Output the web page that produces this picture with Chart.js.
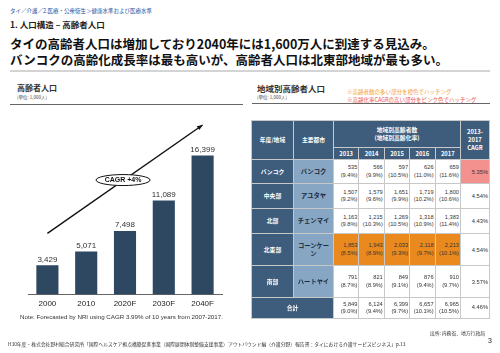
<!DOCTYPE html>
<html lang="ja">
<head>
<meta charset="utf-8">
<script src="https://cdn.jsdelivr.net/npm/chart.js@4"></script>
<style>
  body { margin: 0; width: 500px; height: 353px; background: #fff; position: relative; overflow: hidden;
         font-family: "Noto Sans CJK JP", "Liberation Sans", sans-serif; color: #222; }
  .abs { position: absolute; white-space: nowrap; }
  #crumb { left: 10px; top: 7px; font-size: 5.5px; color: #2a4fa0; }
  #sec { left: 10px; top: 18px; font-size: 8.5px; font-weight: bold; }
  #headline { left: 10px; top: 36px; font-size: 12.5px; font-weight: bold; line-height: 16px; color: #111; }
  #rule { left: 10px; top: 70px; width: 480px; height: 2px; background: #d4d4d4; }
  .ttl { font-size: 8px; font-weight: bold; color: #333; }
  .unit { font-size: 4.5px; color: #444; }
  .uline { height: 1px; background: #666; }
  .hatch { font-size: 5.5px; }
  #note { left: 20px; top: 313px; font-family: "Liberation Sans", sans-serif; font-size: 6.2px; color: #333; }
  #src { right: 15px; top: 329px; font-size: 4.8px; color: #333; }
  #cite { left: 8px; top: 340px; font-size: 4.8px; color: #333; }
  #page { left: 488px; top: 337px; font-family: "Liberation Sans", sans-serif; font-size: 7px; }
  #chartBox { left: 0; top: 112px; width: 250px; height: 206px; }
  #tbl { position: absolute; left: 251px; top: 120px; width: 238px; border-collapse: collapse; table-layout: fixed;
         font-family: "Liberation Sans", "Noto Sans CJK JP", sans-serif; font-size: 5.7px; }
  #tbl td, #tbl th { border: 1px solid #c8c8c8; padding: 0 1px; overflow: hidden; }
  #tbl th { background: #3e5c7b; color: #fff; font-weight: bold; text-align: center;
            font-family: "Noto Sans CJK JP", sans-serif; font-size: 5.8px; line-height: 8px; }
  #tbl td.city { background: #86a6c4; font-weight: bold; text-align: center; font-family: "Noto Sans CJK JP", sans-serif;
                 font-size: 6.3px; color: #1a2a3a; line-height: 8px; padding: 0 2px; }
  #tbl td.num { text-align: right; line-height: 7.5px; color: #333; }
  #tbl td.orange { background: #ea8a1e; }
  #tbl td.pink { background: #f3918e; }
</style>
</head>
<body>
<div id="crumb" class="abs">タイ／介護／2.医療・公衆衛生＞健康水準および医療水準</div>
<div id="sec" class="abs">1. 人口構造 – 高齢者人口</div>
<div id="headline" class="abs">タイの高齢者人口は増加しており2040年には1,600万人に到達する見込み。<br>バンコクの高齢化成長率は最も高いが、高齢者人口は北東部地域が最も多い。</div>
<div id="rule" class="abs"></div>

<div class="abs ttl" style="left:17px;top:82px;">高齢者人口</div>
<div class="abs unit" style="left:17px;top:94px;">(単位: 1,000人)</div>
<div class="abs uline" style="left:10px;top:104px;width:233px;"></div>

<div class="abs ttl" style="left:257px;top:82px;font-size:8.5px;">地域別高齢者人口</div>
<div class="abs unit" style="left:257px;top:94px;">(単位: 1,000人)</div>
<div class="abs hatch" style="left:347px;top:88px;color:#f3a033;">※高齢者数の多い部分を橙色でハッチング</div>
<div class="abs hatch" style="left:347px;top:96px;color:#ee4f4f;">※高齢化率CAGRの高い部分をピンク色でハッチング</div>
<div class="abs uline" style="left:252px;top:103px;width:238px;"></div>

<div id="chartBox" class="abs"><canvas id="elderlyChart" width="250" height="206"></canvas></div>
<div id="note" class="abs">Note: Forecasted by NRI using CAGR 3.99% of 10 years from 2007-2017.</div>

<table id="tbl">
  <colgroup>
    <col style="width:42px"><col style="width:40px">
    <col style="width:25.4px"><col style="width:25.4px"><col style="width:25.4px"><col style="width:25.4px"><col style="width:25.4px">
    <col style="width:29px">
  </colgroup>
  <thead id="thead"></thead>
  <tbody id="tbody"></tbody>
</table>

<div id="src" class="abs">出所: 内務省、地方行政局</div>
<div id="cite" class="abs">H30年度・株式会社野村総合研究所「国際ヘルスケア拠点構築促進事業（国際展開体制整備支援事業）アウトバウンド編（介護分野）報告書：タイにおける介護サービスビジネス」p.13</div>
<div id="page" class="abs">3</div>

<script>
/* ── 高齢者人口 (1,000人) ── */
const years = ['2000', '2010', '2020F', '2030F', '2040F'];
const elderly = [3429, 5071, 7498, 11089, 16399];

/* ── 地域別高齢者人口 ── */
const tableYears = ['2013', '2014', '2015', '2016', '2017'];
const regions = ['バンコク', '中央部', '北部', '北東部', '南部'];
const cities = ['バンコク', 'アユタヤ', 'チェンマイ', 'コーンケーン', 'ハートヤイ'];
const counts = [
  [535, 566, 597, 626, 659],
  [1507, 1579, 1651, 1719, 1800],
  [1163, 1215, 1269, 1318, 1383],
  [1853, 1943, 2033, 2118, 2213],
  [791, 821, 849, 876, 910]
];
const rates = [
  [9.4, 9.9, 10.5, 11.0, 11.6],
  [9.2, 9.6, 9.9, 10.2, 10.6],
  [9.8, 10.3, 10.5, 10.9, 11.4],
  [8.5, 8.9, 9.3, 9.7, 10.1],
  [8.7, 8.9, 9.1, 9.4, 9.7]
];
const cagr = [5.35, 4.54, 4.43, 4.54, 3.57];
const totalCounts = [5849, 6124, 6399, 6657, 6965];
const totalRates = [9.0, 9.4, 9.7, 10.1, 10.5];
const totalCagr = 4.46;

const fmt = n => n.toLocaleString('en-US');

/* ── Table ── */
const rowHeights = [24, 25, 25, 32, 32, 21];
let head = '<tr style="height:27px"><th rowspan="2">年度/地域</th><th rowspan="2">主要都市</th>' +
  '<th colspan="5">地域別高齢者数<br>(地域別高齢化率)</th><th rowspan="2">2013-<br>2017<br>CAGR</th></tr>' +
  '<tr style="height:12px">' + tableYears.map(y => `<th>${y}</th>`).join('') + '</tr>';
document.getElementById('thead').innerHTML = head;

let body = '';
regions.forEach((r, i) => {
  const hiCount = i === 3, hiCagr = i === 0;   // 北東部 = 最多, バンコク = CAGR最高
  body += `<tr style="height:${rowHeights[i]}px"><th>${r}</th><td class="city">${cities[i]}</td>` +
    counts[i].map((c, j) => `<td class="num${hiCount ? ' orange' : ''}">${fmt(c)}<br>(${rates[i][j].toFixed(1)}%)</td>`).join('') +
    `<td class="num${hiCagr ? ' pink' : ''}" style="line-height:8px">${cagr[i].toFixed(2)}%</td></tr>`;
});
body += `<tr style="height:${rowHeights[5]}px"><th colspan="2">合計</th>` +
  totalCounts.map((c, j) => `<td class="num">${fmt(c)}<br>(${totalRates[j].toFixed(1)}%)</td>`).join('') +
  `<td class="num">${totalCagr.toFixed(2)}%</td></tr>`;
document.getElementById('tbody').innerHTML = body;

/* ── Bar labels + CAGR arrow ── */
const decorations = {
  id: 'decorations',
  afterDatasetsDraw(chart) {
    const { ctx, scales: { x, y } } = chart;
    const meta = chart.getDatasetMeta(0);
    ctx.save();
    ctx.font = '8px "Liberation Sans", sans-serif';
    ctx.fillStyle = '#333';
    ctx.textAlign = 'center';
    ctx.textBaseline = 'bottom';
    meta.data.forEach((bar, i) => ctx.fillText(fmt(elderly[i]), bar.x, bar.y - 2));

    // arrow
    const x0 = x.getPixelForValue(0), y0 = y.getPixelForValue(7200);
    const x1 = x.getPixelForValue(4), y1 = y.getPixelForValue(20000);
    ctx.strokeStyle = '#111';
    ctx.lineWidth = 1.4;
    ctx.beginPath();
    ctx.moveTo(x0, y0);
    ctx.lineTo(x1, y1);
    ctx.stroke();
    const ang = Math.atan2(y1 - y0, x1 - x0);
    ctx.fillStyle = '#111';
    ctx.beginPath();
    ctx.moveTo(x1, y1);
    ctx.lineTo(x1 - 6 * Math.cos(ang - 0.4), y1 - 6 * Math.sin(ang - 0.4));
    ctx.lineTo(x1 - 6 * Math.cos(ang + 0.4), y1 - 6 * Math.sin(ang + 0.4));
    ctx.closePath();
    ctx.fill();

    // CAGR ellipse
    const ex = x.getPixelForValue(1.95), ey = y.getPixelForValue(13500);
    ctx.fillStyle = '#fff';
    ctx.lineWidth = 1;
    ctx.beginPath();
    ctx.ellipse(ex, ey, 27, 5.5, 0, 0, Math.PI * 2);
    ctx.fill();
    ctx.stroke();
    ctx.fillStyle = '#111';
    ctx.font = 'bold 7px "Liberation Sans", sans-serif';
    ctx.textBaseline = 'middle';
    ctx.fillText('CAGR +4%', ex, ey + 0.5);
    ctx.restore();
  }
};

new Chart(document.getElementById('elderlyChart'), {
  type: 'bar',
  data: {
    labels: years,
    datasets: [{
      data: elderly,
      backgroundColor: '#2f4862',
      barPercentage: 0.57,
      categoryPercentage: 1
    }]
  },
  options: {
    responsive: false,
    animation: false,
    layout: { padding: { left: 28, right: 28, top: 13, bottom: 4 } },
    plugins: { legend: { display: false }, tooltip: { enabled: false } },
    scales: {
      x: {
        grid: { display: false, drawTicks: false },
        border: { display: true, color: '#666', width: 1 },
        ticks: { color: '#222', padding: 5, font: { family: 'Liberation Sans', size: 8 } }
      },
      y: { display: false, min: 0, max: 20000 }
    }
  },
  plugins: [decorations]
});
</script>
</body>
</html>
